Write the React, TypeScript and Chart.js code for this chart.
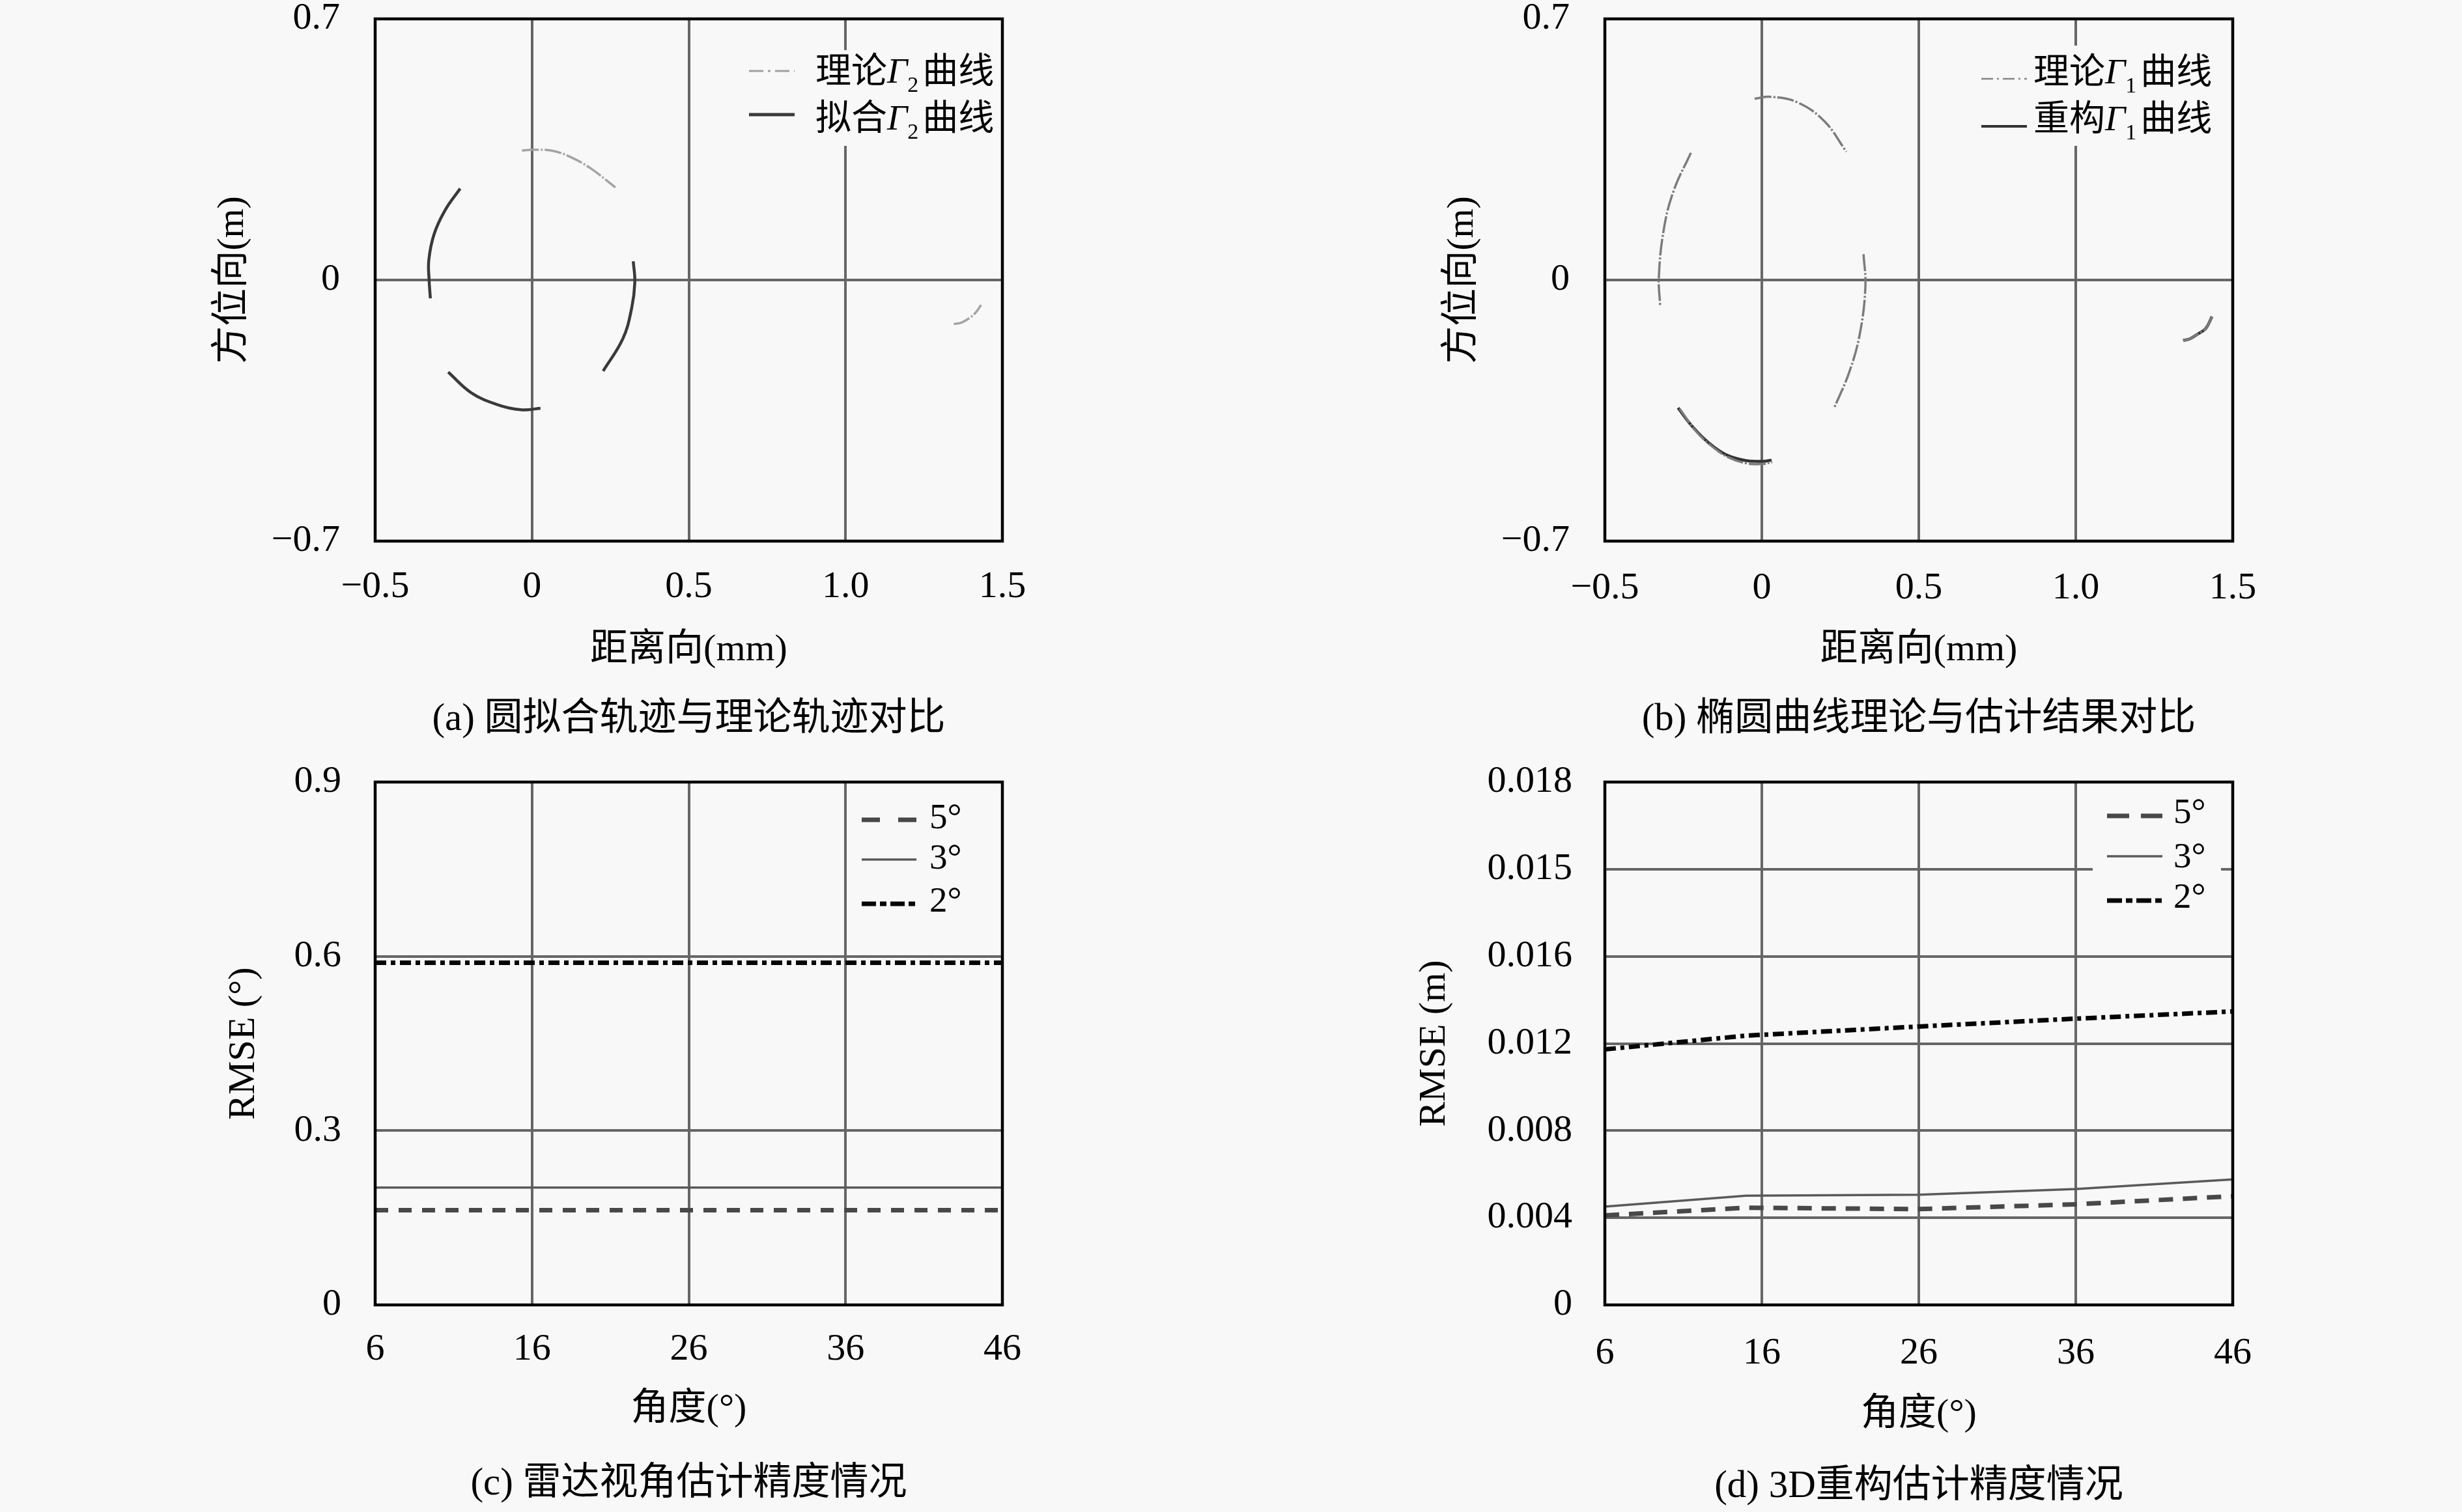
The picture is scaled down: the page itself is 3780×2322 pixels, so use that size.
import React, { useEffect, useRef } from 'react';
import { Chart, registerables } from 'chart.js';

Chart.register(...registerables);

const FONT = '"Liberation Serif", "Noto Sans CJK SC", serif';
const TICK_FS = 58;
const TITLE_FS = 58;
const CAP_FS = 59;
const LEG_FS = 55;
const BG = '#f8f8f8';
const GRID_COLOR = '#666666';

// ---------------- (a) ----------------
const A_X_TICKS = [-0.5, 0, 0.5, 1.0, 1.5];
const A_X_LABELS = ['−0.5', '0', '0.5', '1.0', '1.5'];
const A_Y_TICKS = [-0.7, 0, 0.7];
const A_Y_LABELS = ['−0.7', '0', '0.7'];
const A_ARC_TOP = [[-0.032, 0.347], [0.0, 0.349], [0.062, 0.347], [0.117, 0.332], [0.186, 0.3], [0.266, 0.248]];
const A_ARC_LEFT = [[-0.229, 0.245], [-0.277, 0.187], [-0.312, 0.123], [-0.329, 0.053], [-0.328, 0.0], [-0.324, -0.049]];
const A_ARC_RIGHT = [[0.323, 0.05], [0.328, -0.006], [0.318, -0.075], [0.29, -0.157], [0.227, -0.244]];
const A_ARC_BOTTOM = [[-0.267, -0.247], [-0.194, -0.302], [-0.111, -0.334], [-0.035, -0.348], [0.027, -0.344]];
const A_ARC_SMALL = [[1.345, -0.118], [1.37, -0.114], [1.395, -0.102], [1.415, -0.087], [1.432, -0.067]];
const A_THEORY_ARCS = [A_ARC_TOP, A_ARC_LEFT, A_ARC_RIGHT, A_ARC_BOTTOM, A_ARC_SMALL];
const A_FIT_ARCS = [A_ARC_LEFT, A_ARC_RIGHT, A_ARC_BOTTOM];

// ---------------- (b) ----------------
const B_ARC_TOP = [[-0.023, 0.486], [0.028, 0.491], [0.114, 0.476], [0.2, 0.425], [0.269, 0.344]];
const B_ARC_LEFT = [[-0.226, 0.341], [-0.281, 0.239], [-0.312, 0.137], [-0.328, 0.008], [-0.324, -0.068]];
const B_ARC_RIGHT = [[0.324, 0.069], [0.33, -0.017], [0.312, -0.145], [0.278, -0.248], [0.23, -0.344]];
const B_ARC_BOTTOM_THEORY = [[-0.262, -0.345], [-0.212, -0.403], [-0.16, -0.445], [-0.105, -0.476], [-0.045, -0.492], [0.005, -0.493], [0.033, -0.488]];
const B_ARC_BOTTOM_RECON = [[-0.267, -0.343], [-0.218, -0.396], [-0.17, -0.436], [-0.115, -0.468], [-0.052, -0.484], [0.003, -0.486], [0.031, -0.483]];
const B_ARC_SMALL = [[1.342, -0.162], [1.365, -0.157], [1.388, -0.145], [1.414, -0.13], [1.434, -0.098]];
const B_THEORY_ARCS = [B_ARC_TOP, B_ARC_LEFT, B_ARC_RIGHT, B_ARC_BOTTOM_THEORY, B_ARC_SMALL];
const B_RECON_ARCS = [B_ARC_BOTTOM_RECON, B_ARC_SMALL];

// ---------------- (c) ----------------
const C_X = [6, 16, 26, 36, 46];
const C_X_TICKS = [6, 16, 26, 36, 46];
const C_X_LABELS = ['6', '16', '26', '36', '46'];
const C_Y_TICKS = [0, 0.3, 0.6, 0.9];
const C_Y_LABELS = ['0', '0.3', '0.6', '0.9'];
const C_RMSE_5 = [0.163, 0.163, 0.163, 0.163, 0.163];
const C_RMSE_3 = [0.202, 0.202, 0.202, 0.202, 0.202];
const C_RMSE_2 = [0.589, 0.589, 0.589, 0.589, 0.589];

// ---------------- (d) ----------------
const D_X = [6, 15, 26, 36, 46];
const D_X_TICKS = [6, 16, 26, 36, 46];
const D_X_LABELS = ['6', '16', '26', '36', '46'];
const D_Y_TICKS = [0, 0.004, 0.008, 0.012, 0.016, 0.02, 0.024];
const D_Y_LABELS = ['0', '0.004', '0.008', '0.012', '0.016', '0.015', '0.018'];
const D_RMSE_5 = [0.00411, 0.00446, 0.0044, 0.00462, 0.00499];
const D_RMSE_3 = [0.00451, 0.00501, 0.00506, 0.00532, 0.00576];
const D_RMSE_2 = [0.01173, 0.01236, 0.01278, 0.01314, 0.01347];

const DEG = '°';

type Part = { text: string; italic?: boolean; sub?: boolean };
type LegendItem = { color: string; width: number; dash: number[]; parts: Part[]; sy: number; ty: number };
type LegendSpec = { box?: { x0: number; x1: number; y0: number; y1: number }; sx0: number; sx1: number; tx: number; items: LegendItem[] };
type Layout = { L: number; T: number; R: number; B: number; yTitleGap: number; yTickPad: number; xTickCenter: number; xTitleGap: number; captionGap: number };

function arcSets(arcs: number[][][], color: string, width: number, dash: number[], order: number) {
  return arcs.map((arc) => ({
    data: arc.map(([x, y]) => ({ x, y })),
    showLine: true,
    borderColor: color,
    backgroundColor: color,
    borderWidth: width,
    borderDash: dash,
    borderCapStyle: 'butt',
    pointRadius: 0,
    tension: 0.4,
    order,
  }));
}

function lineSet(xs: number[], ys: number[], color: string, width: number, dash: number[], order: number) {
  return {
    data: xs.map((x, i) => ({ x, y: ys[i] })),
    showLine: true,
    borderColor: color,
    backgroundColor: color,
    borderWidth: width,
    borderDash: dash,
    borderCapStyle: 'butt',
    pointRadius: 0,
    tension: 0,
    order,
  };
}

const GAMMA = (n: string, pre: string): Part[] => [
  { text: pre },
  { text: 'Γ', italic: true },
  { text: n, sub: true },
  { text: '曲线' },
];

const PANELS = [
  {
    key: 'a',
    layout: { L: 576, T: 29, R: 1539, B: 831, yTitleGap: 218, yTickPad: 54, xTickCenter: 71, xTitleGap: 168, captionGap: 274 },
    xMin: -0.5, xMax: 1.5, xTicks: A_X_TICKS, xLabels: A_X_LABELS,
    yMin: -0.7, yMax: 0.7, yTicks: A_Y_TICKS, yLabels: A_Y_LABELS,
    xTitle: '距离向(mm)', yTitle: '方位向(m)', caption: '(a) 圆拟合轨迹与理论轨迹对比',
    datasets: [
      ...arcSets(A_FIT_ARCS, '#3a3a3a', 4.5, [], 0),
      ...arcSets(A_THEORY_ARCS, '#a3a3a3', 3.5, [26, 3, 3, 3], 1),
    ],
    legend: {
      box: { x0: -400, x1: 0, y0: 48, y1: 195 }, sx0: -389, sx1: -319, tx: -287,
      items: [
        { color: '#a0a0a0', width: 3, dash: [22, 7, 4, 7], parts: GAMMA('2', '理论'), sy: 80, ty: 84 },
        { color: '#3a3a3a', width: 5, dash: [], parts: GAMMA('2', '拟合'), sy: 147, ty: 156 },
      ],
    },
  },
  {
    key: 'b',
    layout: { L: 2464, T: 29, R: 3428, B: 831, yTitleGap: 218, yTickPad: 54, xTickCenter: 73, xTitleGap: 168, captionGap: 274 },
    xMin: -0.5, xMax: 1.5, xTicks: A_X_TICKS, xLabels: A_X_LABELS,
    yMin: -0.7, yMax: 0.7, yTicks: A_Y_TICKS, yLabels: A_Y_LABELS,
    xTitle: '距离向(mm)', yTitle: '方位向(m)', caption: '(b) 椭圆曲线理论与估计结果对比',
    datasets: [
      ...arcSets(B_THEORY_ARCS, '#7c7c7c', 3.5, [26, 3, 3, 3], 0),
      ...arcSets(B_RECON_ARCS, '#333333', 4.5, [], 1),
    ],
    legend: {
      box: { x0: -400, x1: 0, y0: 41, y1: 195 }, sx0: -386, sx1: -316, tx: -306,
      items: [
        { color: '#858585', width: 2.5, dash: [18, 6, 3, 6], parts: GAMMA('1', '理论'), sy: 92, ty: 85 },
        { color: '#333333', width: 4, dash: [], parts: GAMMA('1', '重构'), sy: 165, ty: 157 },
      ],
    },
  },
  {
    key: 'c',
    layout: { L: 576, T: 1201, R: 1539, B: 2004, yTitleGap: 201, yTickPad: 52, xTickCenter: 69, xTitleGap: 161, captionGap: 275 },
    xMin: 6, xMax: 46, xTicks: C_X_TICKS, xLabels: C_X_LABELS,
    yMin: 0, yMax: 0.9, yTicks: C_Y_TICKS, yLabels: C_Y_LABELS,
    xTitle: '角度(' + DEG + ')', yTitle: 'RMSE (' + DEG + ')', caption: '(c) 雷达视角估计精度情况',
    datasets: [
      lineSet(C_X, C_RMSE_5, '#484848', 7, [20, 16], 0),
      lineSet(C_X, C_RMSE_3, '#5a5a5a', 3.5, [], 1),
      lineSet(C_X, C_RMSE_2, '#050505', 7, [17, 7, 7, 7], 2),
    ],
    legend: {
      sx0: -216, sx1: -132, tx: -112,
      items: [
        { color: '#484848', width: 7, dash: [28, 28], parts: [{ text: '5' + DEG }], sy: 58, ty: 57 },
        { color: '#5a5a5a', width: 3.5, dash: [], parts: [{ text: '3' + DEG }], sy: 119, ty: 119 },
        { color: '#050505', width: 7, dash: [22, 6, 10, 6], parts: [{ text: '2' + DEG }], sy: 187, ty: 185 },
      ],
    },
  },
  {
    key: 'd',
    layout: { L: 2464, T: 1201, R: 3428, B: 2004, yTitleGap: 261, yTickPad: 50, xTickCenter: 75, xTitleGap: 169, captionGap: 279 },
    xMin: 6, xMax: 46, xTicks: D_X_TICKS, xLabels: D_X_LABELS,
    yMin: 0, yMax: 0.024, yTicks: D_Y_TICKS, yLabels: D_Y_LABELS,
    xTitle: '角度(' + DEG + ')', yTitle: 'RMSE (m)', caption: '(d) 3D重构估计精度情况',
    datasets: [
      lineSet(D_X, D_RMSE_5, '#484848', 7, [22, 15], 0),
      lineSet(D_X, D_RMSE_3, '#5a5a5a', 3.5, [], 1),
      lineSet(D_X, D_RMSE_2, '#050505', 7, [17, 7, 6, 7], 2),
    ],
    legend: {
      box: { x0: -215, x1: -18, y0: 5, y1: 215 }, sx0: -193, sx1: -108, tx: -91,
      items: [
        { color: '#484848', width: 7, dash: [34, 18], parts: [{ text: '5' + DEG }], sy: 52, ty: 49 },
        { color: '#5a5a5a', width: 3.5, dash: [], parts: [{ text: '3' + DEG }], sy: 114, ty: 117 },
        { color: '#050505', width: 7, dash: [23, 6, 10, 6], parts: [{ text: '2' + DEG }], sy: 182, ty: 179 },
      ],
    },
  },
];

function geometry(g: Layout) {
  const pad = { left: 10, top: Math.ceil(TICK_FS / 2 + g.yTickPad) + 1, right: 140, bottom: 10 };
  const left = Math.round(g.L - g.yTitleGap - TITLE_FS / 2 - pad.left);
  const top = g.T - pad.top;
  const right = g.R + pad.right;
  const bottom = Math.round(g.B + g.captionGap + CAP_FS / 2 + pad.bottom);
  const Wy = g.L - left - pad.left;
  const Hx = Math.round(g.xTitleGap + TITLE_FS / 2);
  const capPad = bottom - pad.bottom - CAP_FS - (g.B + Hx);
  return { left, top, width: right - left, height: bottom - top, Wy, Hx, capPad, pad };
}

function decorPlugin(legend: LegendSpec) {
  return {
    id: 'decor',
    afterDatasetsDraw(chart: any) {
      const { ctx, chartArea: a } = chart;
      ctx.save();
      if (legend.box) {
        ctx.fillStyle = BG;
        ctx.fillRect(a.right + legend.box.x0, a.top + legend.box.y0, legend.box.x1 - legend.box.x0, legend.box.y1 - legend.box.y0);
      }
      legend.items.forEach((it) => {
        ctx.beginPath();
        ctx.setLineDash(it.dash);
        ctx.lineCap = 'butt';
        ctx.strokeStyle = it.color;
        ctx.lineWidth = it.width;
        ctx.moveTo(a.right + legend.sx0, a.top + it.sy);
        ctx.lineTo(a.right + legend.sx1, a.top + it.sy);
        ctx.stroke();
        ctx.setLineDash([]);
        let x = a.right + legend.tx;
        ctx.fillStyle = '#000';
        ctx.textBaseline = 'middle';
        ctx.textAlign = 'left';
        it.parts.forEach((p) => {
          const size = p.sub ? Math.round(LEG_FS * 0.62) : LEG_FS;
          ctx.font = `${p.italic ? 'italic ' : ''}${size}px ${FONT}`;
          ctx.fillText(p.text, x, a.top + it.ty + (p.sub ? 19 : 0));
          x += ctx.measureText(p.text).width + (p.sub ? 6 : 0);
        });
      });
      ctx.strokeStyle = '#000';
      ctx.lineWidth = 4.5;
      ctx.setLineDash([]);
      ctx.strokeRect(a.left, a.top, a.right - a.left, a.bottom - a.top);
      ctx.restore();
    },
  };
}

function buildConfig(spec: any, geo: any) {
  const tickFont = { family: FONT, size: TICK_FS, lineHeight: 1 };
  const titleFont = { family: FONT, size: TITLE_FS, lineHeight: 1, weight: 'normal' };
  const capFont = { family: FONT, size: CAP_FS, lineHeight: 1, weight: 'normal' };
  const innerGrid = (n: number) => (ctx: any) => (ctx.index > 0 && ctx.index < n - 1 ? GRID_COLOR : 'rgba(0,0,0,0)');
  return {
    type: 'scatter',
    data: { datasets: spec.datasets },
    options: {
      responsive: false,
      animation: false,
      devicePixelRatio: 1,
      layout: { padding: geo.pad },
      plugins: {
        legend: { display: false },
        tooltip: { enabled: false },
        title: {
          display: true,
          fullSize: false,
          position: 'bottom',
          text: spec.caption,
          color: '#000',
          font: capFont,
          padding: { top: geo.capPad, bottom: 0 },
        },
      },
      scales: {
        x: {
          type: 'linear',
          position: 'bottom',
          min: spec.xMin,
          max: spec.xMax,
          bounds: 'data',
          afterBuildTicks: (s: any) => { s.ticks = spec.xTicks.map((v: number) => ({ value: v })); },
          afterFit: (s: any) => { s.height = geo.Hx; },
          ticks: {
            autoSkip: false,
            maxRotation: 0,
            minRotation: 0,
            padding: spec.layout.xTickCenter - TICK_FS / 2,
            color: '#000',
            font: tickFont,
            callback: (_v: any, i: number) => spec.xLabels[i],
          },
          grid: { color: innerGrid(spec.xTicks.length), lineWidth: 4, drawTicks: false },
          border: { display: false },
          title: { display: true, text: spec.xTitle, color: '#000', font: titleFont, padding: 0 },
        },
        y: {
          type: 'linear',
          position: 'left',
          min: spec.yMin,
          max: spec.yMax,
          bounds: 'data',
          afterBuildTicks: (s: any) => { s.ticks = spec.yTicks.map((v: number) => ({ value: v })); },
          afterFit: (s: any) => { s.width = geo.Wy; },
          ticks: {
            autoSkip: false,
            padding: spec.layout.yTickPad,
            color: '#000',
            font: tickFont,
            callback: (_v: any, i: number) => spec.yLabels[i],
          },
          grid: { color: innerGrid(spec.yTicks.length), lineWidth: 4, drawTicks: false },
          border: { display: false },
          title: { display: true, text: spec.yTitle, color: '#000', font: titleFont, padding: 0 },
        },
      },
      elements: { point: { radius: 0 } },
    },
    plugins: [decorPlugin(spec.legend)],
  };
}

function ChartPanel({ spec }: { spec: any }) {
  const ref = useRef<HTMLCanvasElement | null>(null);
  const geo = geometry(spec.layout);
  useEffect(() => {
    if (!ref.current) return;
    const chart = new Chart(ref.current, buildConfig(spec, geo) as any);
    return () => chart.destroy();
  }, []);
  return (
    <canvas
      ref={ref}
      width={geo.width}
      height={geo.height}
      style={{ position: 'absolute', left: geo.left, top: geo.top, width: geo.width, height: geo.height }}
    />
  );
}

export default function App() {
  useEffect(() => {
    document.body.style.margin = '0';
    document.body.style.background = BG;
  }, []);
  return (
    <div style={{ position: 'absolute', left: 0, top: 0, width: 3780, height: 2322, background: BG, overflow: 'hidden' }}>
      {PANELS.map((p) => (
        <ChartPanel key={p.key} spec={p} />
      ))}
    </div>
  );
}
